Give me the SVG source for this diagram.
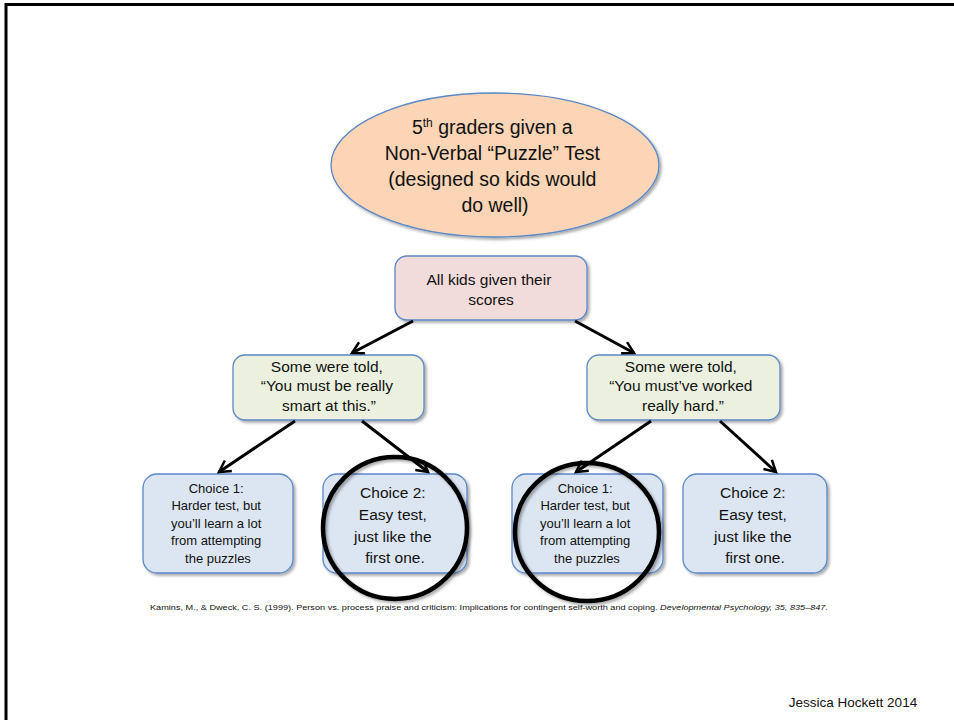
<svg xmlns="http://www.w3.org/2000/svg" width="954" height="720" viewBox="0 0 954 720">
  <style>
    .t { font-family: "Liberation Sans", Arial, sans-serif; fill: #111; text-anchor: middle; }
    .box { stroke: #5b88c8; stroke-width: 1.3; }
    .arrow { stroke: #000; stroke-width: 3; fill: none; }
    .ring { stroke: #000; stroke-width: 4.5; fill: none; }
  </style>
  <defs>
    <filter id="shadow" x="-10%" y="-10%" width="125%" height="130%">
      <feGaussianBlur in="SourceAlpha" stdDeviation="1.6"/>
      <feOffset dx="1.5" dy="2" result="b"/>
      <feComponentTransfer><feFuncA type="linear" slope="0.35"/></feComponentTransfer>
      <feMerge><feMergeNode/><feMergeNode in="SourceGraphic"/></feMerge>
    </filter>
    <marker id="head" viewBox="0 0 12 12" refX="10" refY="6" markerWidth="5" markerHeight="5" markerUnits="strokeWidth" orient="auto">
      <path d="M1,1 L10,6 L1,11" fill="none" stroke="#000" stroke-width="2"/>
    </marker>
  </defs>

  <rect width="954" height="720" fill="#fff"/>
  <!-- slide frame -->
  <path d="M6,730 L6,4.5 L960,4.5" fill="none" stroke="#000" stroke-width="3"/>

  <g id="top">
    <ellipse cx="495" cy="165" rx="164" ry="72" fill="#fbd5b5" class="box" filter="url(#shadow)"/>
    <text class="t" font-size="19.5">
      <tspan x="495" y="134">5<tspan font-size="12" dy="-7">th</tspan><tspan dy="7"> graders given a</tspan></tspan>
      <tspan x="495" y="160">Non-Verbal “Puzzle” Test</tspan>
      <tspan x="495" y="186">(designed so kids would</tspan>
      <tspan x="495" y="212">do well)</tspan>
    </text>
  </g>

  <g id="scores">
    <rect x="395" y="256" width="192" height="64" rx="12" fill="#f2dcdb" class="box" filter="url(#shadow)"/>
    <text class="t" font-size="15.5">
      <tspan x="491" y="285">All kids given their</tspan>
      <tspan x="491" y="305">scores</tspan>
    </text>
  </g>

  <g id="smart">
    <rect x="233" y="355" width="191" height="65" rx="12" fill="#ebf1de" class="box" filter="url(#shadow)"/>
    <text class="t" font-size="15.5">
      <tspan x="329" y="372">Some were told,</tspan>
      <tspan x="329" y="391">“You must be really</tspan>
      <tspan x="329" y="411">smart at this.”</tspan>
    </text>
  </g>

  <g id="hard">
    <rect x="587" y="355" width="193" height="65" rx="12" fill="#ebf1de" class="box" filter="url(#shadow)"/>
    <text class="t" font-size="15.5">
      <tspan x="683" y="372">Some were told,</tspan>
      <tspan x="683" y="391">“You must’ve worked</tspan>
      <tspan x="683" y="411">really hard.”</tspan>
    </text>
  </g>

  <g id="smart-choice1">
    <rect x="143" y="474" width="150" height="99" rx="14" fill="#dce6f2" class="box" filter="url(#shadow)"/>
    <text class="t" font-size="13">
      <tspan x="218" y="493">Choice 1:</tspan>
      <tspan x="218" y="510">Harder test, but</tspan>
      <tspan x="218" y="528">you’ll learn a lot</tspan>
      <tspan x="218" y="545">from attempting</tspan>
      <tspan x="218" y="563">the puzzles</tspan>
    </text>
  </g>

  <g id="smart-choice2">
    <rect x="323" y="474" width="144" height="99" rx="14" fill="#dce6f2" class="box" filter="url(#shadow)"/>
    <text class="t" font-size="15.5">
      <tspan x="395" y="498">Choice 2:</tspan>
      <tspan x="395" y="520">Easy test,</tspan>
      <tspan x="395" y="542">just like the</tspan>
      <tspan x="395" y="563">first one.</tspan>
    </text>
  </g>

  <g id="hard-choice1">
    <rect x="512" y="474" width="151" height="99" rx="14" fill="#dce6f2" class="box" filter="url(#shadow)"/>
    <text class="t" font-size="13">
      <tspan x="587" y="493">Choice 1:</tspan>
      <tspan x="587" y="510">Harder test, but</tspan>
      <tspan x="587" y="528">you’ll learn a lot</tspan>
      <tspan x="587" y="545">from attempting</tspan>
      <tspan x="587" y="563">the puzzles</tspan>
    </text>
  </g>

  <g id="hard-choice2">
    <rect x="683" y="474" width="144" height="99" rx="14" fill="#dce6f2" class="box" filter="url(#shadow)"/>
    <text class="t" font-size="15.5">
      <tspan x="755" y="498">Choice 2:</tspan>
      <tspan x="755" y="520">Easy test,</tspan>
      <tspan x="755" y="542">just like the</tspan>
      <tspan x="755" y="563">first one.</tspan>
    </text>
  </g>

  <g id="connectors">
    <line class="arrow" x1="413" y1="321" x2="352" y2="353" marker-end="url(#head)"/>
    <line class="arrow" x1="575" y1="321" x2="634" y2="353" marker-end="url(#head)"/>
    <line class="arrow" x1="295" y1="421" x2="219" y2="472" marker-end="url(#head)"/>
    <line class="arrow" x1="362" y1="421" x2="428" y2="472" marker-end="url(#head)"/>
    <line class="arrow" x1="651" y1="421" x2="576" y2="472" marker-end="url(#head)"/>
    <line class="arrow" x1="720" y1="421" x2="776" y2="472" marker-end="url(#head)"/>
  </g>

  <!-- highlighted choices -->
  <g id="rings" filter="url(#shadow)">
    <ellipse class="ring" cx="395" cy="528" rx="72" ry="71"/>
    <ellipse class="ring" cx="587" cy="532" rx="72" ry="69"/>
  </g>

  <g id="citation">
    <text class="t" font-size="7.2" x="489" y="610" textLength="678" lengthAdjust="spacingAndGlyphs">Kamins, M., &amp; Dweck, C. S. (1999). Person vs. process praise and criticism: Implications for contingent self-worth and coping. <tspan font-style="italic">Developmental Psychology, 35, 835–847.</tspan></text>
  </g>

  <g id="credit">
    <text class="t" font-size="13.5" x="853" y="707">Jessica Hockett 2014</text>
  </g>
</svg>
